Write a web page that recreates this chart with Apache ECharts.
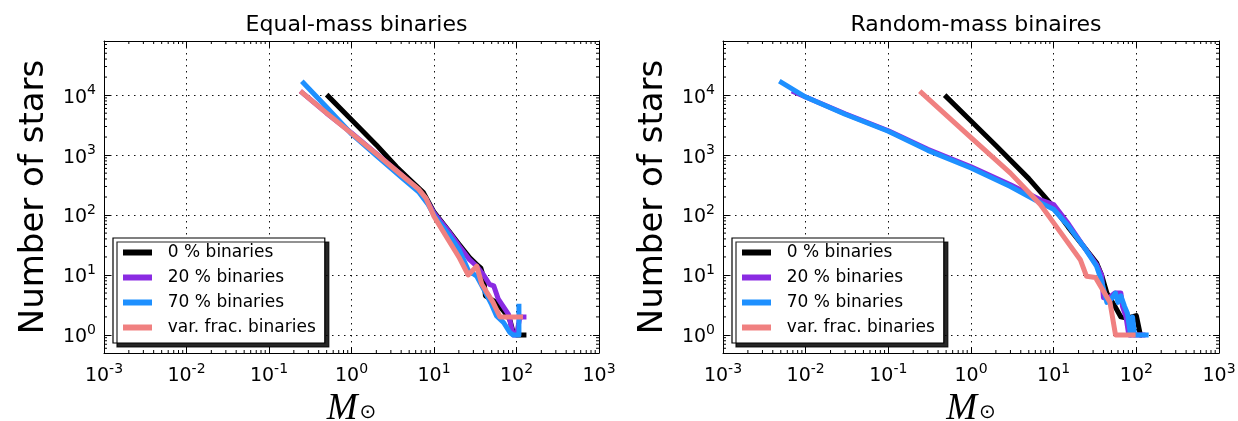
<!DOCTYPE html>
<html><head><meta charset="utf-8">
<script src="https://cdn.jsdelivr.net/npm/echarts@6/dist/echarts.min.js"></script>
<style>html,body{margin:0;padding:0;background:#fff}#c{width:1238px;height:421px}</style>
</head><body><div id="c"></div>
<script>
// ---------------- data ----------------
const panelTitles = ['Equal-mass binaries', 'Random-mass binaires'];
const seriesNames = ['0 % binaries', '20 % binaries', '70 % binaries', 'var. frac. binaries'];
const yAxisTitle = 'Number of stars';

// Equal-mass binaries panel: [mass (Msun), number of stars]
const eq0 = [[0.5,10200],[1,3900],[2,1480],[3.5,640],[5,400],[7.4,240],[10,112],[15,55],[20,33],[27,19.5],[33,15],[37,13],[40,9],[42,4.5],[57,3.5],[70,2.5],[83,1.8],[91,1.1],[100,1],[132,1]];
const eq20 = [[0.24,11700],[0.5,5000],[1,2350],[2,1060],[4,470],[6.5,265],[8,185],[10,108],[15,54],[20,31],[27,18],[33,14],[40,10],[47,7],[53,6.6],[60,4],[69,3],[80,2.2],[91,1],[100,1],[110,2],[132,2]];
const eq70 = [[0.25,17100],[0.5,6300],[1,2250],[2,980],[4,430],[6.5,245],[8.5,150],[10,100],[15,48],[20,27],[26,12],[33,9.5],[40,5.8],[50,3.2],[57,2.1],[70,1.6],[83,1.1],[91,1],[107,1],[107,3.3]];
const eqVar = [[0.24,11700],[0.5,5000],[1,2300],[2,1050],[4,470],[6.5,270],[8,190],[10,95],[15,38],[20,20],[26,10],[33,14],[38,7],[52,3.5],[63,2],[120,2]];

// Random-mass binaries panel
const rnd0 = [[0.48,10000],[1,3700],[2,1450],[5,405],[8.3,182],[10,135],[15,63],[23,30],[33,16],[38,10],[44,5],[55,3],[65,2],[78,1.9],[100,2.1],[112,1],[117,1]];
const rnd20 = [[0.0068,11700],[0.01,9300],[0.03,4900],[0.1,2550],[0.3,1250],[1,640],[3,320],[6.9,180],[10,150],[15,72],[23,30],[33,15],[38,10],[40,4.2],[45,4],[55,5],[65,5],[68,3],[75,2],[81,1],[129,1]];
const rnd70 = [[0.0048,17100],[0.01,9300],[0.03,4800],[0.1,2500],[0.3,1200],[1,610],[3,300],[6.9,160],[10,125],[15,66],[23,30],[33,14],[38,8],[44,3.5],[50,4],[56,5],[60,3.5],[65,4.5],[72,3],[78,2.3],[85,1],[89,1],[90,2],[95,1],[141,1]];
const rndVar = [[0.24,11700],[1,1950],[3,500],[6.9,150],[10,74],[21,18],[25,9.5],[32,9.1],[48,3.5],[56,1],[98,1]];

const panelData = [[eq0, eq20, eq70, eqVar], [rnd0, rnd20, rnd70, rndVar]];
const colors = ['#000000', '#8a2be2', '#1e90ff', '#f08080'];

const xRange = [1e-3, 1e3];
const yRange = [0.5, 8e4];

// --------------- layout ---------------
const FONT = 'DejaVu Sans';
const grids = [
  {left: 104, top: 41, width: 495, height: 312, outerBoundsMode: 'none', containLabel: false},
  {left: 723, top: 41, width: 496, height: 312, outerBoundsMode: 'none', containLabel: false}
];

function powLabel(v) {
  const e = Math.round(Math.log10(v));
  return '{b|10}{s|' + e + '}';
}
const tickRich = {
  b: {fontFamily: FONT, fontSize: 19, color: '#000', lineHeight: 24, verticalAlign: 'bottom'},
  s: {fontFamily: FONT, fontSize: 14, color: '#000', lineHeight: 14, verticalAlign: 'top'}
};
const gridLine = {show: true, lineStyle: {color: '#111', width: 1, type: [1.5, 4.5]}};
const axLine = {show: true, onZero: false, lineStyle: {color: '#000', width: 1}};
const majTick = {show: true, inside: true, length: 6, lineStyle: {color: '#000', width: 1}};

const xAxis = [], yAxis = [], series = [], legend = [], title = [];
grids.forEach((g, gi) => {
  xAxis.push({
    type: 'log', logBase: 10, gridIndex: gi, position: 'bottom', min: xRange[0], max: xRange[1], splitNumber: 6,
    axisLine: axLine, axisTick: majTick, splitLine: gridLine,
    axisLabel: {formatter: powLabel, margin: 9, rich: tickRich},
    name: '{m|M}{s|⊙}', nameLocation: 'middle', nameGap: 32,
    nameTextStyle: {rich: {
      m: {fontFamily: 'Liberation Serif', fontStyle: 'italic', fontSize: 37, color: '#000', lineHeight: 36, verticalAlign: 'top'},
      s: {fontFamily: 'DejaVu Sans', fontSize: 20, color: '#000', lineHeight: 36, verticalAlign: 'top', padding: [12, 0, 0, 2]}
    }}
  });
  xAxis.push({
    type: 'log', logBase: 10, gridIndex: gi, position: 'top', min: xRange[0], max: xRange[1], splitNumber: 6,
    axisLine: axLine, axisTick: majTick, splitLine: {show: false}, axisLabel: {show: false}
  });
  yAxis.push({
    type: 'log', logBase: 10, gridIndex: gi, position: 'left', min: yRange[0], max: yRange[1],
    axisLine: axLine, axisTick: majTick, splitLine: gridLine,
    axisLabel: {formatter: powLabel, margin: 8, rich: tickRich, showMinLabel: false, showMaxLabel: false},
    name: yAxisTitle, nameLocation: 'middle', nameGap: 53,
    nameTextStyle: {fontFamily: FONT, fontSize: 34, color: '#000'}
  });
  yAxis.push({
    type: 'log', logBase: 10, gridIndex: gi, position: 'right', min: yRange[0], max: yRange[1],
    axisLine: axLine, axisTick: majTick, splitLine: {show: false}, axisLabel: {show: false}
  });
  title.push({
    text: panelTitles[gi], left: g.left + g.width / 2, top: 9, textAlign: 'center',
    textStyle: {fontFamily: FONT, fontSize: 22, fontWeight: 'normal', color: '#000'}
  });
  panelData[gi].forEach((d, si) => {
    series.push({
      name: seriesNames[si], type: 'line', xAxisIndex: gi * 2, yAxisIndex: gi * 2,
      data: d, showSymbol: false, symbol: 'none', animation: false, z: 5 + si,
      lineStyle: {color: colors[si], width: 5, join: 'round'}, itemStyle: {color: colors[si]}
    });
  });
  // minor ticks (2..9 x 10^n) drawn through the axes' own scales
  const minor = [];
  for (let n = -3; n < 3; n++) for (let k = 2; k <= 9; k++) minor.push([k * Math.pow(10, n), 1, 0]);
  for (let n = -1; n < 5; n++) for (let k = 2; k <= 9; k++) {
    const v = k * Math.pow(10, n);
    if (v > yRange[0] && v < yRange[1]) minor.push([1, v, 1]);
  }
  series.push({
    type: 'custom', xAxisIndex: gi * 2, yAxisIndex: gi * 2, data: minor, silent: true, clip: false, z: 20,
    animation: false, encode: {x: 0, y: 1},
    renderItem: function (params, api) {
      const L = 3, st = {stroke: '#000', lineWidth: 1};
      if (api.value(2) === 0) {
        const v = api.value(0);
        const a = api.coord([v, yRange[0]]), b = api.coord([v, yRange[1]]);
        return {type: 'group', children: [
          {type: 'line', shape: {x1: a[0], y1: a[1], x2: a[0], y2: a[1] - L}, style: st},
          {type: 'line', shape: {x1: b[0], y1: b[1], x2: b[0], y2: b[1] + L}, style: st}
        ]};
      } else {
        const v = api.value(1);
        const a = api.coord([xRange[0], v]), b = api.coord([xRange[1], v]);
        return {type: 'group', children: [
          {type: 'line', shape: {x1: a[0], y1: a[1], x2: a[0] + L, y2: a[1]}, style: st},
          {type: 'line', shape: {x1: b[0], y1: b[1], x2: b[0] - L, y2: b[1]}, style: st}
        ]};
      }
    }
  });
  legend.push({
    orient: 'vertical', left: gi === 0 ? 113 : 732, top: 238,
    backgroundColor: '#fff', borderColor: '#000', borderWidth: 1.2, borderRadius: 0,
    shadowColor: 'rgba(0,0,0,0.85)', shadowBlur: 0, shadowOffsetX: 4, shadowOffsetY: 4,
    padding: [6, 9, 7, 10], itemGap: 8, itemWidth: 29, itemHeight: 6, icon: 'rect',
    formatter: function (n) { return '\u00a0\u00a0' + n; },
    textStyle: {fontFamily: FONT, fontSize: 17, lineHeight: 17, color: '#000'},
    data: seriesNames.slice()
  });
});

const chart = echarts.init(document.getElementById('c'), null, {renderer: 'canvas'});
chart.setOption({
  animation: false, backgroundColor: '#fff',
  title, grid: grids, xAxis, yAxis, legend, series
});
</script></body></html>
